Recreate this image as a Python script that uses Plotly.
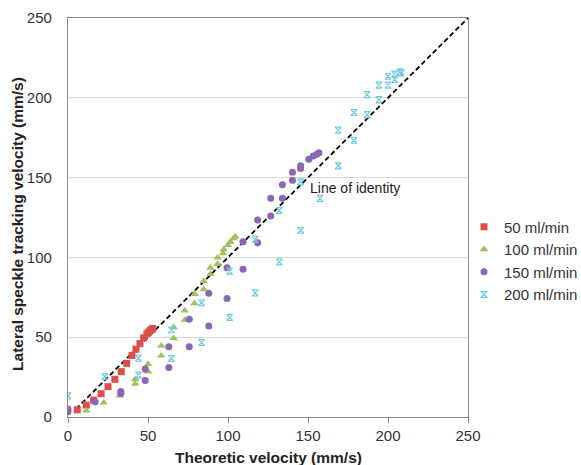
import plotly.graph_objects as go

# Theoretic velocity (x) vs lateral speckle tracking velocity (y), mm/s
red_x = [5.8, 11.4, 16.0, 20.7, 25.0, 29.3, 33.3, 36.7, 40.0, 42.5, 45.0, 47.3, 49.3, 50.5, 51.5, 52.5, 53.0]
red_y = [4.5, 7.5, 10.6, 14.6, 19.0, 23.6, 28.4, 33.6, 38.5, 42.5, 46.0, 49.6, 52.2, 53.3, 54.3, 55.0, 55.5]

green_x = [11.5, 22.3, 32.3, 42.0, 42.0, 50.0, 50.0, 58.3, 58.3, 66.0, 66.0, 73.0, 73.0, 79.0, 79.0,
           84.8, 84.8, 89.0, 89.0, 93.5, 93.5, 96.9, 97.3, 100.0, 101.5, 103.5, 104.6]
green_y = [4.0, 9.0, 13.4, 20.7, 23.6, 28.4, 33.2, 38.4, 44.5, 49.3, 56.2, 60.8, 66.6, 71.2, 77.0,
           80.0, 85.2, 89.6, 93.5, 95.8, 99.8, 102.5, 105.0, 107.7, 109.8, 111.9, 113.0]

purple_x = [0.0, 0.0, 17.0, 33.0, 33.0, 48.3, 48.3, 63.0, 63.0, 75.8, 75.8, 88.0, 88.0, 99.4, 99.4,
            109.4, 109.4, 118.5, 118.5, 126.7, 126.7, 134.0, 134.0, 140.3, 140.3, 145.4, 145.4,
            150.5, 153.3, 155.5, 156.8]
purple_y = [3.3, 5.0, 9.6, 14.8, 15.9, 22.8, 30.0, 31.0, 44.0, 44.0, 61.2, 57.0, 77.5, 74.3, 93.5,
            92.5, 109.8, 109.2, 123.4, 125.9, 137.0, 137.0, 145.5, 148.4, 153.4, 155.7, 157.5,
            161.5, 163.5, 164.7, 165.5]

cyan_x = [0.0, 23.0, 44.0, 44.0, 64.6, 64.6, 83.5, 83.5, 101.0, 101.0, 117.0, 117.0, 132.0, 132.0,
          145.4, 145.4, 157.5, 168.9, 168.9, 178.7, 178.7, 187.0, 187.0, 194.3, 194.3, 200.0, 200.0,
          204.2, 204.2, 207.4, 208.4]
cyan_y = [13.2, 25.3, 26.3, 36.8, 36.7, 54.5, 46.8, 71.6, 62.4, 91.4, 77.8, 111.3, 97.2, 129.4,
          117.0, 147.3, 137.0, 157.4, 179.7, 173.4, 190.8, 189.5, 202.0, 198.9, 207.9, 207.9, 213.5,
          211.5, 214.8, 216.2, 215.6]

identity = [5, 250]

FONT = "Liberation Sans, Arial, sans-serif"

fig = go.Figure()

# dashed line of identity y = x
fig.add_trace(go.Scatter(x=identity, y=identity, mode="lines", showlegend=False,
                         line=dict(color="black", width=1.8, dash="5px,3px"), hoverinfo="skip"))

fig.add_trace(go.Scatter(x=red_x, y=red_y, mode="markers", name="50 ml/min",
                         marker=dict(symbol="square", size=7, color="#dc4f48")))
fig.add_trace(go.Scatter(x=green_x, y=green_y, mode="markers", name="100 ml/min",
                         marker=dict(symbol="triangle-up", size=7.5, color="#9cc25a")))
fig.add_trace(go.Scatter(x=purple_x, y=purple_y, mode="markers", name="150 ml/min",
                         marker=dict(symbol="circle", size=7, color="#8a66b4")))
fig.add_trace(go.Scatter(x=cyan_x, y=cyan_y, mode="markers", name="200 ml/min",
                         marker=dict(symbol="hourglass-open", size=6, color="#6ccbe2",
                                     line=dict(width=1.2, color="#6ccbe2"))))

fig.update_layout(
    width=581, height=465,
    margin=dict(l=68, r=113, t=18, b=48, autoexpand=False),
    paper_bgcolor="white", plot_bgcolor="white",
    font=dict(family=FONT, size=15, color="#333333"),
    showlegend=True,
    legend=dict(x=0.99, y=0.392, xanchor="left", yanchor="middle",
                font=dict(size=15, color="#333333"), itemsizing="trace",
                itemwidth=30, tracegroupgap=0, bgcolor="rgba(0,0,0,0)"),
    xaxis=dict(range=[0, 250], tickvals=[0, 50, 100, 150, 200, 250],
               showgrid=False, zeroline=False,
               showline=True, linecolor="#8a8a8a", linewidth=1.2, mirror=True,
               ticks="outside", ticklen=5, tickcolor="#8a8a8a",
               tickfont=dict(size=15, color="#333333")),
    yaxis=dict(range=[0, 250], tickvals=[0, 50, 100, 150, 200, 250],
               showgrid=True, gridcolor="#d9d9d9", gridwidth=1, zeroline=False,
               showline=True, linecolor="#8a8a8a", linewidth=1.2, mirror=True,
               ticks="", ticklabelstandoff=12,
               tickfont=dict(size=15, color="#333333")),
    annotations=[
        dict(text="Line of identity", x=150, y=143.4, xref="x", yref="y",
             xanchor="left", yanchor="middle", showarrow=False,
             font=dict(size=14, color="#222222")),
        dict(text="<b>Theoretic velocity (mm/s)</b>", x=0.5, y=0, xref="paper", yref="paper",
             xanchor="center", yanchor="middle", yshift=-40, showarrow=False,
             font=dict(size=15.5, color="#222222")),
        dict(text="<b>Lateral speckle tracking velocity (mm/s)</b>", x=0, y=0.484,
             xref="paper", yref="paper", xanchor="center", yanchor="middle", xshift=-50,
             textangle=-90, showarrow=False, font=dict(size=15.5, color="#222222")),
    ],
)

fig.write_html("out.html")
